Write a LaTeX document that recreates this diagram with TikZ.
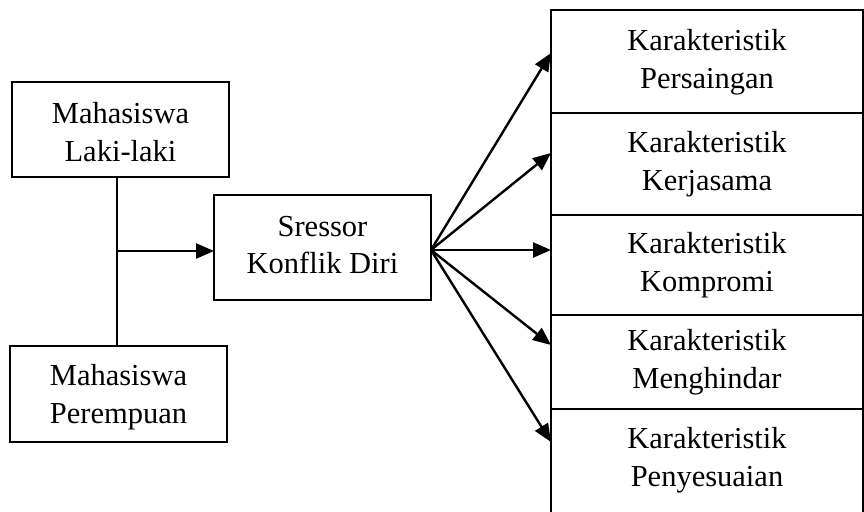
\documentclass[tikz,border=0pt]{standalone}
\usepackage{fontspec}
\setmainfont{Liberation Serif}
\usetikzlibrary{arrows.meta}
\begin{document}
\begin{tikzpicture}[x=1pt,y=-1pt,
  txt/.style={font=\fontsize{30.5}{37.5}\selectfont, align=center, inner sep=0pt},
  boxline/.style={draw=black, line width=1.4pt},
  arr/.style={line width=2.4pt, -{Triangle[length=18pt,width=15pt]}},
  plain/.style={line width=2.2pt}]
\useasboundingbox (0,0) rectangle (864,511);
\clip (0,0) rectangle (864,511);
% left boxes
\draw[boxline] (12,82) rectangle (229,177);
\node[txt] (laki) at (120.5,132) {Mahasiswa\\Laki-laki};
\draw[boxline] (10,346) rectangle (227,442);
\node[txt] (perempuan) at (118.5,397) {Mahasiswa\\Perempuan};
% centre box
\draw[boxline] (214,195) rectangle (431,300);
\node[txt] (sressor) at (322.5,245) {Sressor\\Konflik Diri};
\coordinate (lakib) at (117,177);
\coordinate (perempuant) at (117,346);
\coordinate (join) at (117,251);
\coordinate (sressorw) at (214,251);
\coordinate (sressore) at (431,250);
% right boxes
\draw[boxline] (551,10) rectangle (863,113);
\draw[boxline] (551,113) rectangle (863,215);
\draw[boxline] (551,215) rectangle (863,315);
\draw[boxline] (551,315) rectangle (863,409);
\draw[boxline] (551,409) rectangle (863,540);
\node[txt] (k1) at (707,62) {Karakteristik\\Persaingan};
\node[txt] (k2) at (707,164) {Karakteristik\\Kerjasama};
\node[txt] (k3) at (707,265) {Karakteristik\\Kompromi};
\node[txt] (k4) at (707,362) {Karakteristik\\Menghindar};
\node[txt] (k5) at (707,460) {Karakteristik\\Penyesuaian};
\coordinate (t1) at (551,53);
\coordinate (t2) at (551,153);
\coordinate (t3) at (551,250);
\coordinate (t4) at (551,345);
\coordinate (t5) at (551,442);
% connectors
\draw[plain] (lakib) -- (perempuant);
\draw[arr] (join) -- (sressorw);
\foreach \t in {t1,t2,t3,t4,t5} \draw[arr] (sressore) -- (\t);
\end{tikzpicture}
\end{document}
